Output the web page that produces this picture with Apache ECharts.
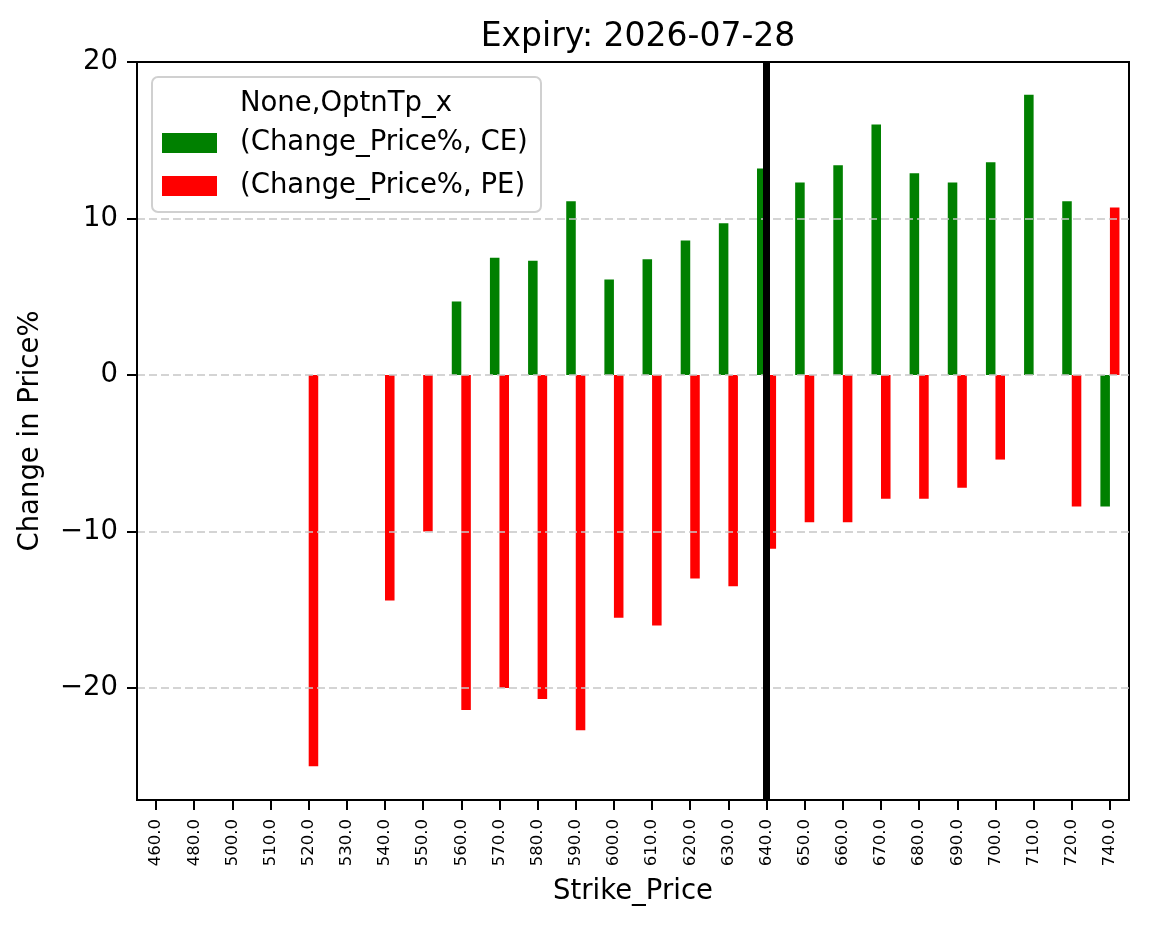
<!DOCTYPE html>
<html>
<head>
<meta charset="utf-8">
<script src="https://cdn.jsdelivr.net/npm/echarts@6.0.0/dist/echarts.min.js"></script>
<style>
  html, body { margin: 0; padding: 0; background: #fff; }
  #chart { width: 1149px; height: 928px; }
</style>
</head>
<body>
<div id="chart"></div>
<script>
const strikes = ['460.0', '480.0', '500.0', '510.0', '520.0', '530.0', '540.0', '550.0', '560.0', '570.0',
  '580.0', '590.0', '600.0', '610.0', '620.0', '630.0', '640.0', '650.0', '660.0', '670.0',
  '680.0', '690.0', '700.0', '710.0', '720.0', '740.0']

// null = no value for that strike
const ceChange = [null, null, null, null, null, null, null, null, 4.7, 7.5,
  7.3, 11.1, 6.1, 7.4, 8.6, 9.7, 13.2, 12.3, 13.4, 16.0,
  12.9, 12.3, 13.6, 17.9, 11.1, -8.4]
const peChange = [null, null, null, null, -25.0, null, -14.4, -10.0, -21.4, -20.0,
  -20.7, -22.7, -15.5, -16.0, -13.0, -13.5, -11.1, -9.4, -9.4, -7.9,
  -7.9, -7.2, -5.4, null, -8.4, 10.7]

const yTicks = [-20, -10, 0, 10, 20]
const spotStrike = '640.0'

const font = 'DejaVu Sans'
const chart = echarts.init(document.getElementById('chart'))

const fmtY = (v) => (v < 0 ? '\u2212' + Math.abs(v) : String(v))

const option = {
  animation: false,
  textStyle: { fontFamily: font },
  title: {
    text: 'Expiry: 2026-07-28',
    left: 633,
    top: 16,
    textAlign: 'center',
    textStyle: { fontFamily: font, fontSize: 33, fontWeight: 'normal', color: '#000' }
  },
  grid: {
    left: 137,
    right: 20,
    top: 62,
    bottom: 128,
    show: true,
    borderColor: '#000',
    borderWidth: 2,
    containLabel: false
  },
  legend: {
    orient: 'vertical',
    left: 162,
    top: 129,
    padding: 0,
    icon: 'rect',
    itemWidth: 55,
    itemHeight: 20,
    itemGap: 15,
    textStyle: { fontFamily: font, fontSize: 27.5, color: '#000', lineHeight: 28, padding: [0, 0, 0, 18] },
    data: ['(Change_Price%, CE)', '(Change_Price%, PE)']
  },
  graphic: [
    {
      type: 'rect',
      z: 3,
      shape: { x: 152, y: 77, width: 389, height: 135, r: 6 },
      style: { fill: 'rgba(255,255,255,0.8)', stroke: '#d0d0d0', lineWidth: 2 }
    },
    {
      type: 'text',
      z: 4,
      x: 346,
      y: 104,
      style: {
        text: 'None,OptnTp_x',
        fontFamily: font,
        fontSize: 27.5,
        fill: '#000',
        align: 'center',
        verticalAlign: 'middle'
      }
    }
  ],
  xAxis: {
    type: 'category',
    data: strikes,
    name: 'Strike_Price',
    nameLocation: 'middle',
    nameGap: 78,
    nameTextStyle: { fontFamily: font, fontSize: 27.5, color: '#000' },
    axisLine: { show: true, onZero: false, lineStyle: { color: '#000', width: 2 } },
    axisTick: { show: true, alignWithLabel: true, length: 10, lineStyle: { color: '#000', width: 2 } },
    axisLabel: { rotate: 90, interval: 0, margin: 19, fontSize: 16.5, color: '#000', fontFamily: font },
    splitLine: { show: false }
  },
  yAxis: {
    type: 'value',
    z: 3,
    min: -27.15,
    max: 20,
    name: 'Change in Price%',
    nameLocation: 'middle',
    nameGap: 92,
    nameTextStyle: { fontFamily: font, fontSize: 27.5, color: '#000' },
    axisLine: { show: true, lineStyle: { color: '#000', width: 2 } },
    axisTick: { show: true, length: 10, lineStyle: { color: '#000', width: 2 }, customValues: yTicks },
    axisLabel: { margin: 19, fontSize: 27.5, color: '#000', fontFamily: font, formatter: fmtY, customValues: yTicks },
    splitLine: {
      show: true,
      showMinLine: true,
      showMaxLine: false,
      lineStyle: { color: '#c6c6c6', width: 1.5, type: [8, 4] }
    }
  },
  series: [
    {
      name: '(Change_Price%, CE)',
      type: 'bar',
      data: ceChange,
      barWidth: '25%',
      barGap: '0%',
      itemStyle: { color: '#008000' }
    },
    {
      name: '(Change_Price%, PE)',
      type: 'bar',
      data: peChange,
      barWidth: '25%',
      barGap: '0%',
      itemStyle: { color: '#ff0000' }
    },
    {
      // carries only the vertical spot line, so it sits on the category centre
      name: 'spot',
      type: 'line',
      z: 5,
      data: [],
      markLine: {
        silent: true,
        symbol: 'none',
        label: { show: false },
        lineStyle: { color: '#000', width: 7, type: 'solid' },
        data: [{ xAxis: spotStrike }]
      }
    }
  ]
}

chart.setOption(option)
</script>
</body>
</html>
